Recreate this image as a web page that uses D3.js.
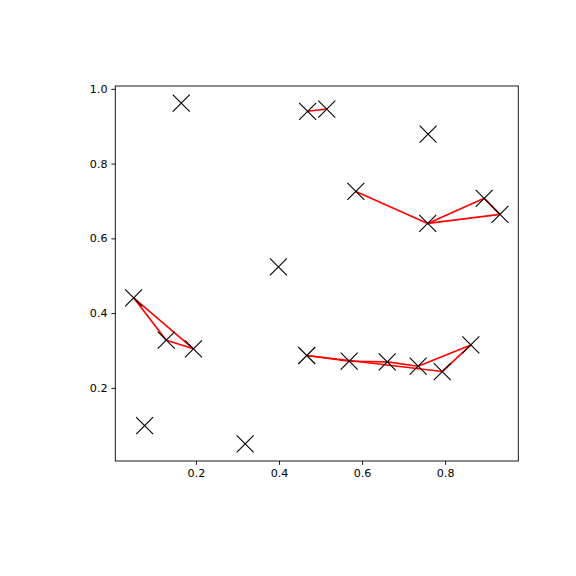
<!DOCTYPE html>
<html><head><meta charset="utf-8">
<script src="https://cdn.jsdelivr.net/npm/d3@7"></script>
<style>body{margin:0;background:#fff}svg{display:block}</style>
</head><body><svg id="c" width="576" height="576"></svg>
<script>
const xs = [0.1647,0.469,0.515,0.759,0.585,0.758,0.894,0.932,0.3986,0.050,0.1286,0.194,0.0765,0.3185,0.4668,0.569,0.6606,0.735,0.793,0.8618];
const ys = [0.962,0.940,0.946,0.879,0.7255,0.640,0.707,0.664,0.524,0.441,0.3276,0.3045,0.099,0.050,0.2866,0.2713,0.2697,0.258,0.2437,0.315];
const edgeFrom = [1,4,5,6,7,9,10,11,14,15,16,14,17,19];
const edgeTo   = [2,5,6,7,5,10,11,9,15,16,17,18,19,18];
const xTicks = [0.2,0.4,0.6,0.8];
const yTicks = [0.2,0.4,0.6,0.8,1.0];

const L=115.3, R=518.3, T=86, B=461;
const xmin=d3.min(xs), xmax=d3.max(xs), ymin=d3.min(ys), ymax=d3.max(ys);
const mx=(xmax-xmin)*0.05, my=(ymax-ymin)*0.05;
const x=d3.scaleLinear().domain([xmin-mx,xmax+mx]).range([L,R]);
const y=d3.scaleLinear().domain([ymin-my,ymax+my]).range([B,T]);
const svg=d3.select("#c");
const g=svg.append("g");

g.selectAll("line.e").data(edgeFrom.map((f,i)=>[f,edgeTo[i]])).enter().append("line")
 .attr("x1",d=>x(xs[d[0]])).attr("y1",d=>y(ys[d[0]]))
 .attr("x2",d=>x(xs[d[1]])).attr("y2",d=>y(ys[d[1]]))
 .attr("stroke","red").attr("stroke-width",1.65);

const s=8.5;
const pts=g.selectAll("g.p").data(xs.map((v,i)=>[v,ys[i]])).enter().append("g")
 .attr("transform",d=>`translate(${x(d[0])},${y(d[1])})`);
pts.append("path").attr("d",`M${-s},${-s}L${s},${s}M${-s},${s}L${s},${-s}`)
 .attr("stroke","black").attr("stroke-width",1.1).attr("fill","none");

const xa=svg.append("g").attr("transform",`translate(0,${B})`)
 .call(d3.axisBottom(x).tickValues(xTicks).tickFormat(d3.format(".1f")).tickSizeOuter(0).tickSize(3.9).tickPadding(3.9));
const ya=svg.append("g").attr("transform",`translate(${L},0)`)
 .call(d3.axisLeft(y).tickValues(yTicks).tickFormat(d3.format(".1f")).tickSizeOuter(0).tickSize(3.9).tickPadding(3.9));
[xa,ya].forEach(a=>{a.select(".domain").remove();
 a.selectAll("text").attr("font-family","DejaVu Sans").attr("font-size",11.1).attr("fill","black");
 a.selectAll("line").attr("stroke","black").attr("stroke-width",0.9);});
svg.append("rect").attr("x",L).attr("y",T).attr("width",R-L).attr("height",B-T)
 .attr("fill","none").attr("stroke","black").attr("stroke-width",0.9);
</script></body></html>
